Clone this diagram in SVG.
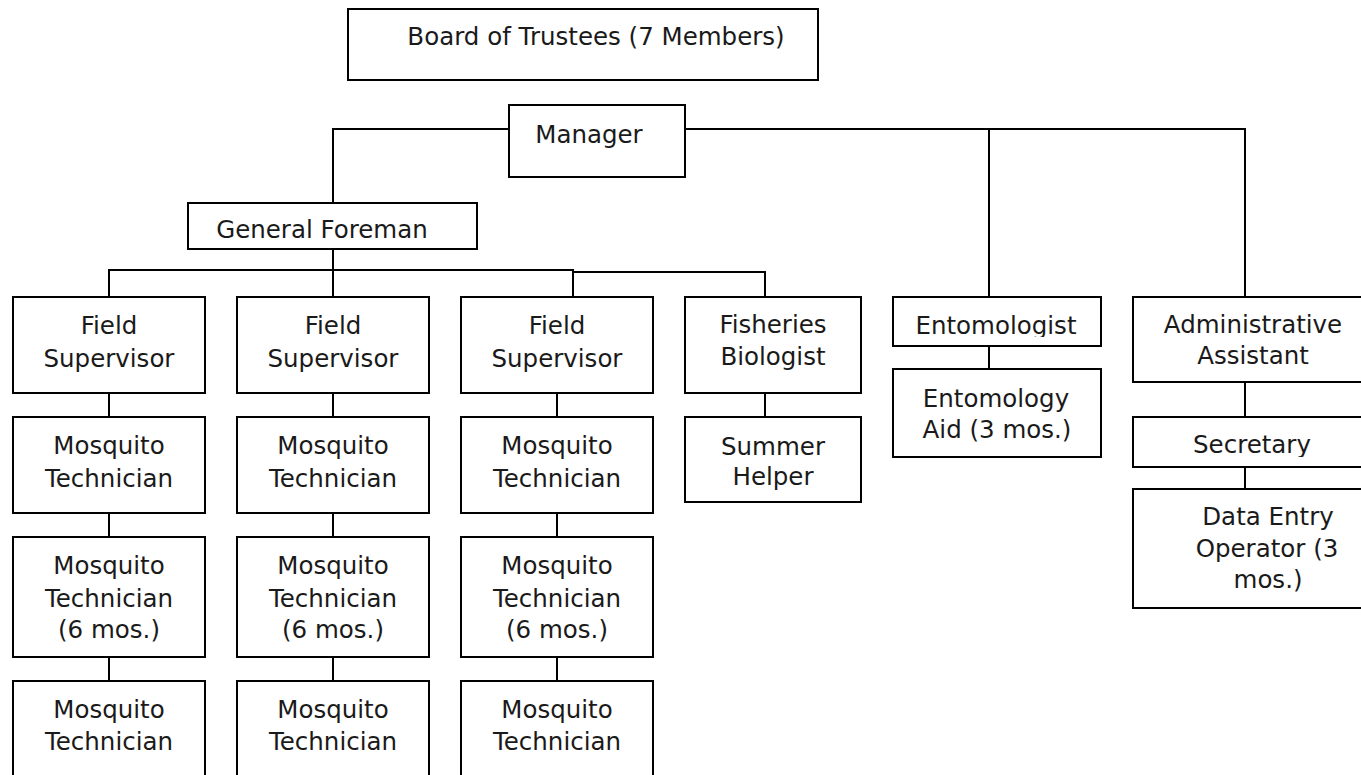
<svg xmlns="http://www.w3.org/2000/svg" width="1361" height="775" viewBox="0 0 1361 775">
  <style>
    .box { fill: #ffffff; stroke: #000000; stroke-width: 2; }
    .link { fill: none; stroke: #000000; stroke-width: 2; }
    .lbl { font-family: "DejaVu Sans", "Liberation Sans", sans-serif; font-size: 24.5px; fill: #1a1a1a; text-anchor: middle; }
  </style>
  <defs>
    <clipPath id="clipEnto"><rect x="893" y="297" width="208" height="40"/></clipPath>
    <clipPath id="clipSec"><rect x="1133" y="417" width="240" height="40"/></clipPath>
  </defs>
  <rect width="1361" height="775" fill="#ffffff"/>

  <!-- connectors -->
  <g id="connectors" class="link">
    <path d="M509 129 H333 V203"/>
    <path d="M685 129 H1245 V297"/>
    <path d="M989 129 V297"/>
    <path d="M333 249 V297"/>
    <path d="M109 297 V270 H573 V297"/>
    <path d="M573 272 H765 V297"/>
    <!-- column 1 -->
    <path d="M109 393 V417 M109 513 V537 M109 657 V681"/>
    <!-- column 2 -->
    <path d="M333 393 V417 M333 513 V537 M333 657 V681"/>
    <!-- column 3 -->
    <path d="M557 393 V417 M557 513 V537 M557 657 V681"/>
    <!-- fisheries -->
    <path d="M765 393 V417"/>
    <!-- entomology -->
    <path d="M989 346 V369"/>
    <!-- administration -->
    <path d="M1245 382 V417 M1245 465 V489"/>
    <!-- stray stroke inside the third (6 mos.) box -->
    <path d="M509 609 V633" stroke-width="1.5"/>
  </g>

  <g id="board">
    <rect class="box" x="348" y="9" width="470" height="71"/>
    <text class="lbl" x="596" y="45">Board of Trustees (7 Members)</text>
  </g>

  <g id="manager">
    <rect class="box" x="509" y="105" width="176" height="72"/>
    <text class="lbl" x="589" y="143">Manager</text>
  </g>

  <g id="general-foreman">
    <rect class="box" x="188" y="203" width="289" height="46"/>
    <text class="lbl" x="322" y="238">General Foreman</text>
  </g>

  <!-- field supervisors -->
  <g id="field-supervisor-1">
    <rect class="box" x="13" y="297" width="192" height="96"/>
    <text class="lbl" x="109" y="334">Field</text>
    <text class="lbl" x="109" y="367">Supervisor</text>
  </g>
  <g id="field-supervisor-2">
    <rect class="box" x="237" y="297" width="192" height="96"/>
    <text class="lbl" x="333" y="334">Field</text>
    <text class="lbl" x="333" y="367">Supervisor</text>
  </g>
  <g id="field-supervisor-3">
    <rect class="box" x="461" y="297" width="192" height="96"/>
    <text class="lbl" x="557" y="334">Field</text>
    <text class="lbl" x="557" y="367">Supervisor</text>
  </g>
  <g id="fisheries-biologist">
    <rect class="box" x="685" y="297" width="176" height="96"/>
    <text class="lbl" x="773" y="333">Fisheries</text>
    <text class="lbl" x="773" y="365">Biologist</text>
  </g>

  <!-- row 1 technicians -->
  <g id="tech-1a">
    <rect class="box" x="13" y="417" width="192" height="96"/>
    <text class="lbl" x="109" y="454">Mosquito</text>
    <text class="lbl" x="109" y="487">Technician</text>
  </g>
  <g id="tech-2a">
    <rect class="box" x="237" y="417" width="192" height="96"/>
    <text class="lbl" x="333" y="454">Mosquito</text>
    <text class="lbl" x="333" y="487">Technician</text>
  </g>
  <g id="tech-3a">
    <rect class="box" x="461" y="417" width="192" height="96"/>
    <text class="lbl" x="557" y="454">Mosquito</text>
    <text class="lbl" x="557" y="487">Technician</text>
  </g>
  <g id="summer-helper">
    <rect class="box" x="685" y="417" width="176" height="85"/>
    <text class="lbl" x="773" y="455">Summer</text>
    <text class="lbl" x="773" y="485">Helper</text>
  </g>

  <!-- row 2 seasonal technicians -->
  <g id="tech-1b">
    <rect class="box" x="13" y="537" width="192" height="120"/>
    <text class="lbl" x="109" y="574">Mosquito</text>
    <text class="lbl" x="109" y="607">Technician</text>
    <text class="lbl" x="109" y="638">(6 mos.)</text>
  </g>
  <g id="tech-2b">
    <rect class="box" x="237" y="537" width="192" height="120"/>
    <text class="lbl" x="333" y="574">Mosquito</text>
    <text class="lbl" x="333" y="607">Technician</text>
    <text class="lbl" x="333" y="638">(6 mos.)</text>
  </g>
  <g id="tech-3b">
    <rect class="box" x="461" y="537" width="192" height="120"/>
    <text class="lbl" x="557" y="574">Mosquito</text>
    <text class="lbl" x="557" y="607">Technician</text>
    <text class="lbl" x="557" y="638">(6 mos.)</text>
  </g>

  <!-- row 3 technicians (continue past the page edge) -->
  <g id="tech-1c">
    <rect class="box" x="13" y="681" width="192" height="110"/>
    <text class="lbl" x="109" y="718">Mosquito</text>
    <text class="lbl" x="109" y="750">Technician</text>
  </g>
  <g id="tech-2c">
    <rect class="box" x="237" y="681" width="192" height="110"/>
    <text class="lbl" x="333" y="718">Mosquito</text>
    <text class="lbl" x="333" y="750">Technician</text>
  </g>
  <g id="tech-3c">
    <rect class="box" x="461" y="681" width="192" height="110"/>
    <text class="lbl" x="557" y="718">Mosquito</text>
    <text class="lbl" x="557" y="750">Technician</text>
  </g>

  <!-- entomology branch -->
  <g id="entomologist">
    <rect class="box" x="893" y="297" width="208" height="49"/>
    <text class="lbl" x="996" y="334" clip-path="url(#clipEnto)">Entomologist</text>
  </g>
  <g id="entomology-aid">
    <rect class="box" x="893" y="369" width="208" height="88"/>
    <text class="lbl" x="996" y="407">Entomology</text>
    <text class="lbl" x="997" y="438">Aid (3 mos.)</text>
  </g>

  <!-- administration branch -->
  <g id="administrative-assistant">
    <rect class="box" x="1133" y="297" width="240" height="85"/>
    <text class="lbl" x="1253" y="333">Administrative</text>
    <text class="lbl" x="1253" y="364">Assistant</text>
  </g>
  <g id="secretary">
    <rect class="box" x="1133" y="417" width="240" height="50"/>
    <text class="lbl" x="1252" y="453" clip-path="url(#clipSec)">Secretary</text>
  </g>
  <g id="data-entry-operator">
    <rect class="box" x="1133" y="489" width="240" height="119"/>
    <text class="lbl" x="1268" y="525">Data Entry</text>
    <text class="lbl" x="1267" y="557">Operator (3</text>
    <text class="lbl" x="1268" y="588">mos.)</text>
  </g>
</svg>
